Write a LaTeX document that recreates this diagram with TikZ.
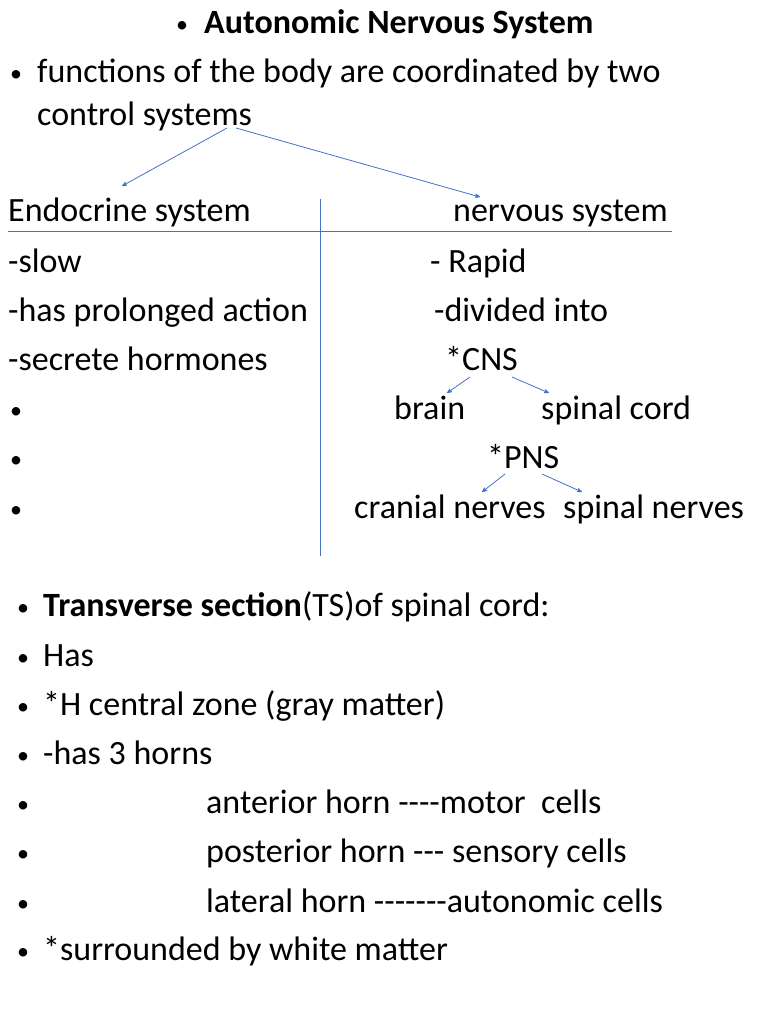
\documentclass[tikz,border=0pt]{standalone}
\usepackage{fontspec}
\setmainfont{Carlito}
\usetikzlibrary{arrows}
\definecolor{linkblue}{HTML}{4472C4}
\newcommand{\bul}{{\fontsize{24}{30}\selectfont\raisebox{1pt}{•}}}

\begin{document}
\begin{tikzpicture}[x=1pt,y=-1pt,>=stealth',
  txt/.style={anchor=base west,inner sep=0pt,font=\fontsize{34}{40}\selectfont},
  link/.style={draw=linkblue,line width=0.8pt}]
\useasboundingbox (0,0) rectangle (768,1024);

% heading and intro
  \node[txt] (tb) at (176,34) {\bul};
  \node[txt] (title) at (204,34) {\textbf{Autonomic Nervous System}};
  \node[txt] (b1) at (10,83) {\bul};
  \node[txt] (intro) at (37,83) {functions of the body are coordinated by two};
  \node[txt] (ctrl) at (37,126) {control systems};

% the two systems
  \node[txt] (endo) at (8,222) {Endocrine system};
  \node[txt] (nerv) at (453,222) {nervous system};
  \node[txt] (slow) at (8,272) {-slow};
  \node[txt] (prol) at (8,321) {-has prolonged action};
  \node[txt] (horm) at (8,370) {-secrete hormones};
  \node[txt] (e4) at (10,419) {\bul};
  \node[txt] (e5) at (10,468) {\bul};
  \node[txt] (e6) at (10,518) {\bul};
  \node[txt] (rapid) at (430,272) {- Rapid};
  \node[txt] (divi) at (434,321) {-divided into};
  \node[txt] (cns) at (445,370) {*CNS};
  \node[txt] (brain) at (394,419) {brain};
  \node[txt] (cord) at (541,419) {spinal cord};
  \node[txt] (pns) at (487,468) {*PNS};
  \node[txt] (cran) at (354,518) {cranial nerves};
  \node[txt] (spn) at (563,518) {spinal nerves};

% connectors
  \coordinate (c1) at (227,128);
  \coordinate (c2) at (236,128);
  \coordinate (e1) at (122,186);
  \coordinate (n1) at (480,197);
  \draw[link,->] (c1) -- (e1);
  \draw[link,->] (c2) -- (n1);
  \coordinate (h1) at (8,231);
  \coordinate (h2) at (672,231);
  \draw[link] (h1) -- (h2);
  \coordinate (v1) at (320,199);
  \coordinate (v2) at (320,556);
  \draw[link] (v1) -- (v2);
  \draw[link,->] (470,377) -- (447,393);
  \draw[link,->] (512,377) -- (549,393);
  \draw[link,->] (505,474) -- (482,492);
  \draw[link,->] (542,474) -- (582,492);

% spinal cord section
  \foreach \y/\t in {616/{\textbf{Transverse section}(TS)of spinal cord:},
                     666/{Has},
                     715/{*H central zone (gray matter)},
                     764/{-has 3 horns},
                     960/{*surrounded by white matter}}
  {
    \node[txt] at (17,\y) {\bul};
    \node[txt] at (43,\y) {\t};
  }
  \foreach \y/\t in {813/{anterior horn -{}-{}-{}-motor\ \ cells},
                     862/{posterior horn -{}-{}- sensory cells},
                     912/{lateral horn -{}-{}-{}-{}-{}-{}-autonomic cells}}
  {
    \node[txt] at (17,\y) {\bul};
    \node[txt] at (206,\y) {\t};
  }
\end{tikzpicture}
\end{document}
